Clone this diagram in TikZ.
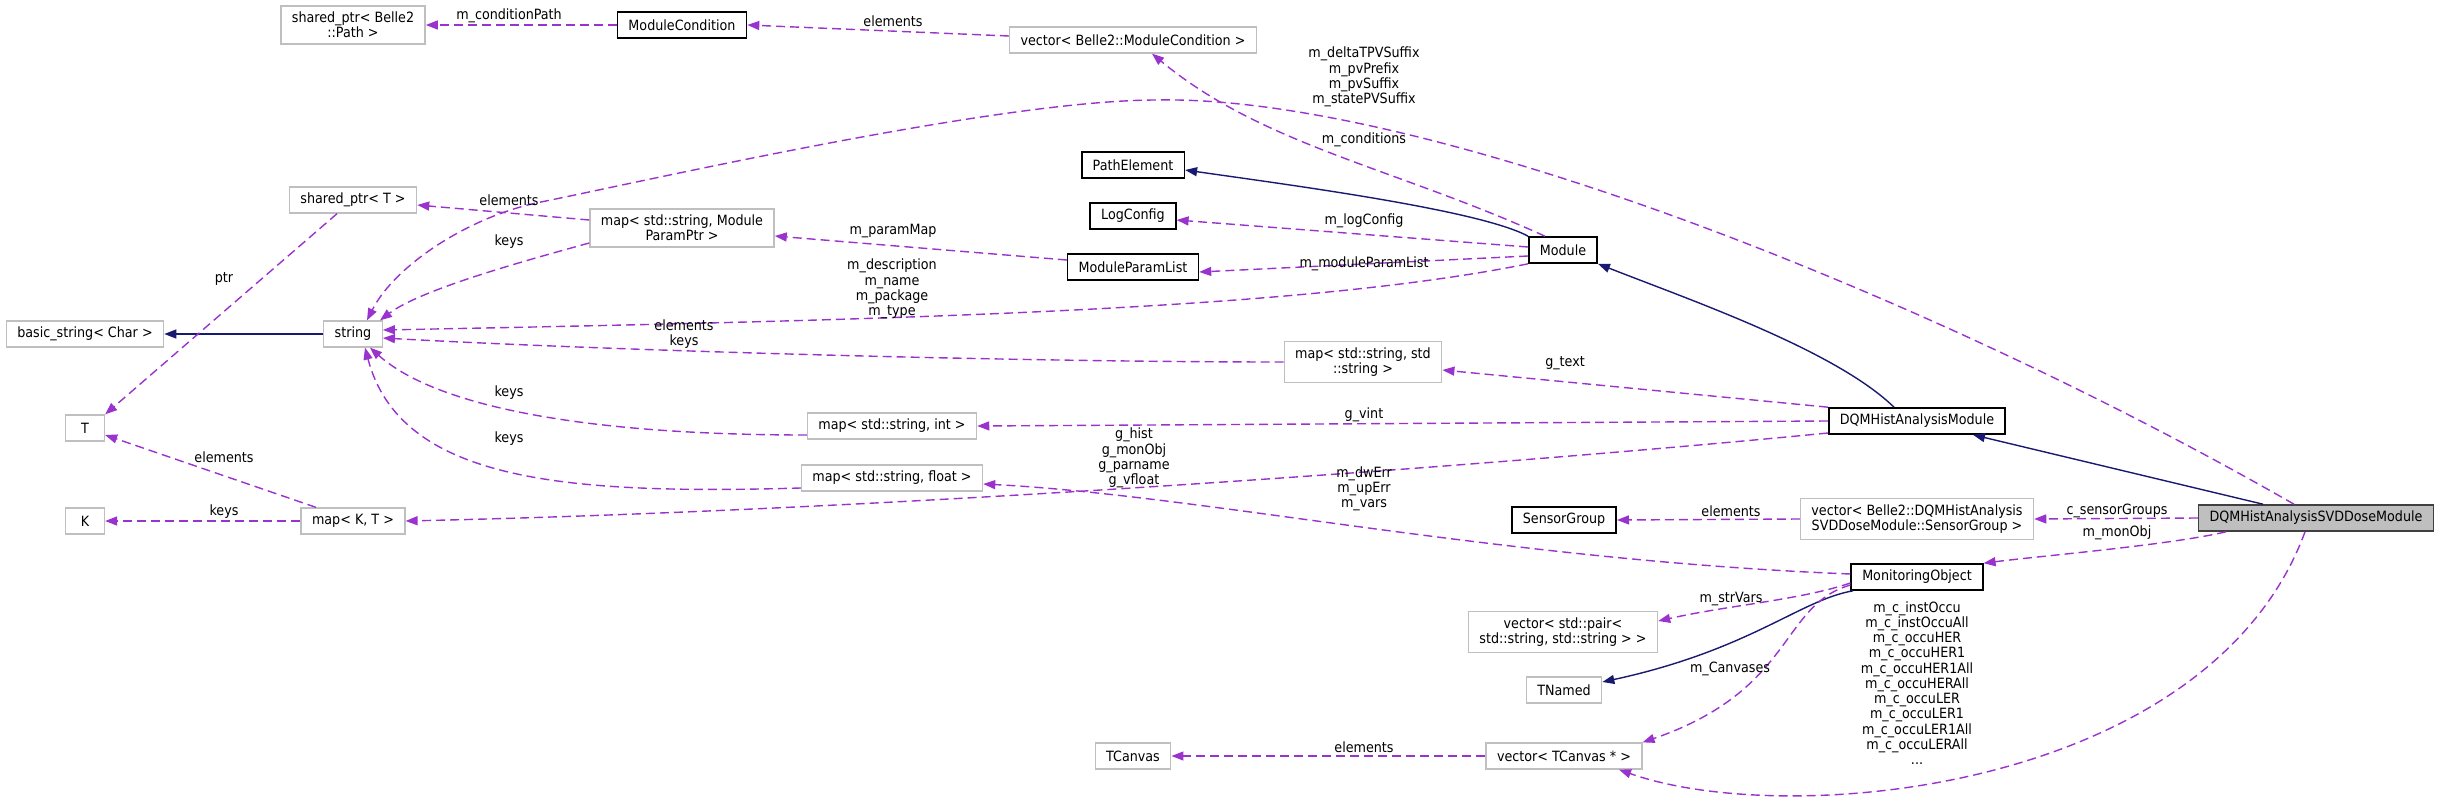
\documentclass[tikz,border=0pt]{standalone}
\usepackage{fontspec}
\setmainfont{DejaVu Sans Condensed}
\usepackage{tikz}
\usetikzlibrary{arrows.meta, positioning}

\definecolor{relpurple}{HTML}{9A32CD}
\definecolor{inhblue}{HTML}{191970}
\definecolor{extgray}{HTML}{BFBFBF}
\definecolor{docgray}{HTML}{404040}

\newcommand{\dgfont}{\fontsize{14.2}{15.3}\selectfont}

\tikzset{
  box/.style={draw, line width=1.3bp, inner xsep=11bp, inner ysep=6bp,
    minimum height=26bp, minimum width=39bp, align=center, font=\dgfont},
  extbox/.style={box, draw=extgray, fill=white},
  docbox/.style={box, draw=black, line width=1.6bp},
  mainbox/.style={box, draw=docgray, fill=extgray, line width=1.6bp},
  member/.style={relpurple, line width=1.4bp, dash pattern=on 9bp off 5bp,
    -{Stealth[length=12bp, width=9bp, inset=0pt]}},
  inherit/.style={inhblue, line width=1.4bp,
    -{Stealth[length=12bp, width=9bp, inset=0pt]}},
  lbl/.style={font=\dgfont, align=center, inner sep=0pt},
}

\begin{document}
\begin{tikzpicture}[x=1bp, y=-1bp]
  \useasboundingbox (0,0) rectangle (2443,801);

  % Documented classes
  \node[mainbox] (svddose) at (2316,518) {DQMHistAnalysisSVDDoseModule};
  \node[docbox] (dqmham) at (1917,421) {DQMHistAnalysisModule};
  \node[docbox] (module) at (1563,250) {Module};
  \node[docbox] (pathelem) at (1133,165) {PathElement};
  \node[docbox] (logcfg) at (1133,216) {LogConfig};
  \node[docbox] (parlist) at (1133,267) {ModuleParamList};
  \node[docbox] (modcond) at (682,25) {ModuleCondition};
  \node[docbox] (sensgrp) at (1564,520) {SensorGroup};
  \node[docbox] (monobj) at (1917,577) {MonitoringObject};

  % External classes and containers
  \node[extbox] (pathptr) at (353,25) {shared\_ptr< Belle2\\::Path >};
  \node[extbox] (condvec) at (1133,40) {vector< Belle2::ModuleCondition >};
  \node[extbox] (tptr) at (353,200) {shared\_ptr< T >};
  \node[extbox] (parmap) at (682,228) {map< std::string, Module\\ParamPtr >};
  \node[extbox] (basicstr) at (85,334) {basic\_string< Char >};
  \node[extbox] (str) at (353,334) {string};
  \node[extbox] (strmap) at (1363,362) {map< std::string, std\\::string >};
  \node[extbox] (tnode) at (85,428) {T};
  \node[extbox] (intmap) at (892,426) {map< std::string, int >};
  \node[extbox] (fltmap) at (892,478) {map< std::string, float >};
  \node[extbox] (knode) at (85,521) {K};
  \node[extbox] (ktmap) at (353,521) {map< K, T >};
  \node[extbox] (sensvec) at (1917,519) {vector< Belle2::DQMHistAnalysis\\SVDDoseModule::SensorGroup >};
  \node[extbox] (pairvec) at (1563,632) {vector< std::pair<\\std::string, std::string > >};
  \node[extbox] (tnamed) at (1564,690) {TNamed};
  \node[extbox] (tcanvas) at (1133,756) {TCanvas};
  \node[extbox] (canvvec) at (1564,756) {vector< TCanvas * >};

  % Inheritance
  \draw[inherit] (str.west) -- (basicstr.east);
  \draw[inherit] (module.north west) .. controls (1480,210) and (1290,185) .. ([yshift=-5bp]pathelem.east);
  \draw[inherit] ([xshift=-23bp]dqmham.north) .. controls (1835,350) and (1690,300) .. (module.south east);
  \draw[inherit] ([xshift=-53bp]svddose.north) -- ([xshift=56bp]dqmham.south);
  \draw[inherit] ([xshift=-64bp]monobj.south) .. controls (1800,600) and (1750,650) .. ([yshift=8bp]tnamed.east);

  % Members, top part
  \draw[member] (modcond.west) -- (pathptr.east);
  \draw[member] ([yshift=4bp]condvec.west) -- (modcond.east);
  \draw[member] ([xshift=-18bp]module.north) .. controls (1395,168) and (1262,145) .. ([xshift=19bp]condvec.south);
  \draw[member] ([yshift=3bp]module.west) -- ([yshift=-4bp]logcfg.east);
  \draw[member] ([yshift=-6bp]module.west) -- ([yshift=-5bp]parlist.east);
  \draw[member] (module.south west) .. controls (1300,310) and (900,320) .. ([yshift=4bp]str.east);
  \draw[member] ([yshift=7bp]parlist.west) -- ([yshift=-8bp]parmap.east);
  \draw[member] ([yshift=8bp]parmap.west) -- ([yshift=-5bp]tptr.east);
  \draw[member] ([yshift=-15bp]parmap.west) .. controls (520,262) and (420,290) .. ([xshift=27bp]str.north);
  \draw[member] ([xshift=-22bp]svddose.north) .. controls (1920,290) and (1420,95) .. (1157,100)
    .. controls (1000,100) and (650,180) .. (541,202)
    .. controls (470,216) and (395,265) .. ([xshift=14bp]str.north);

  % Members, string containers
  \draw[member] (strmap.west) .. controls (1000,362) and (600,350) .. ([yshift=-4bp]str.east);
  \draw[member] ([yshift=-9bp]intmap.west) .. controls (600,435) and (440,410) .. ([xshift=17bp]str.south);
  \draw[member] ([yshift=-10bp]fltmap.west) .. controls (560,495) and (400,480) .. ([xshift=12bp]str.south);
  \draw[member] ([xshift=-16bp]tptr.south) -- (tnode.north east);
  \draw[member] ([xshift=-37bp]ktmap.north) -- ([yshift=-7bp]tnode.east);
  \draw[member] (ktmap.west) -- (knode.east);

  % Members of the analysis modules
  \draw[member] (dqmham.north west) -- ([yshift=-8bp]strmap.east);
  \draw[member] (dqmham.west) -- (intmap.east);
  \draw[member] ([yshift=-12bp]dqmham.west) .. controls (1500,465) and (900,510) .. (ktmap.east);
  \draw[member] (svddose.west) -- (sensvec.east);
  \draw[member] (sensvec.west) -- (sensgrp.east);
  \draw[member] ([xshift=-90bp]svddose.south) .. controls (2170,545) and (2040,556) .. (monobj.north east);
  \draw[member] ([xshift=-11bp]svddose.south) .. controls (2210,790) and (1790,830) .. ([xshift=55bp]canvvec.south);
  \draw[member] ([yshift=3bp]monobj.west) .. controls (1500,560) and (1200,495) .. ([yshift=-6bp]fltmap.east);
  \draw[member] ([yshift=-6bp]monobj.west) .. controls (1800,600) and (1730,605) .. ([yshift=11bp]pairvec.east);
  \draw[member] ([yshift=-8bp]monobj.west) .. controls (1780,605) and (1795,690) .. (canvvec.north east);
  \draw[member] (canvvec.west) -- (tcanvas.east);

  % Edge labels
  \node[lbl] (lcondpath) at (509,16) {m\_conditionPath};
  \node[lbl] (lcondelem) at (893,21) {elements};
  \node[lbl] (lsuffix) at (1364,77) {m\_deltaTPVSuffix\\m\_pvPrefix\\m\_pvSuffix\\m\_statePVSuffix};
  \node[lbl] (lconds) at (1364,140) {m\_conditions};
  \node[lbl] (llogcfg) at (1364,221) {m\_logConfig};
  \node[lbl] (lparmap) at (893,231) {m\_paramMap};
  \node[lbl] (lparelem) at (509,200) {elements};
  \node[lbl] (lparkeys) at (509,242) {keys};
  \node[lbl] (lmodpar) at (1364,264) {m\_moduleParamList};
  \node[lbl] (ldescr) at (892,289) {m\_description\\m\_name\\m\_package\\m\_type};
  \node[lbl] (lptr) at (224,279) {ptr};
  \node[lbl] (lstrkeys) at (684,334) {elements\\keys};
  \node[lbl] (lgtext) at (1565,363) {g\_text};
  \node[lbl] (lintkeys) at (509,393) {keys};
  \node[lbl] (lgvint) at (1364,415) {g\_vint};
  \node[lbl] (lghist) at (1134,458) {g\_hist\\g\_monObj\\g\_parname\\g\_vfloat};
  \node[lbl] (lfltkeys) at (509,439) {keys};
  \node[lbl] (lktelem) at (224,457) {elements};
  \node[lbl] (lerr) at (1364,489) {m\_dwErr\\m\_upErr\\m\_vars};
  \node[lbl] (lktkeys) at (224,512) {keys};
  \node[lbl] (lsenselem) at (1731,511) {elements};
  \node[lbl] (lsensgrps) at (2117,511) {c\_sensorGroups};
  \node[lbl] (lmonobj) at (2117,533) {m\_monObj};
  \node[lbl] (lstrvars) at (1731,599) {m\_strVars};
  \node[lbl] (lcanv) at (1730,669) {m\_Canvases};
  \node[lbl] (loccu) at (1917,683) {m\_c\_instOccu\\m\_c\_instOccuAll\\m\_c\_occuHER\\m\_c\_occuHER1\\m\_c\_occuHER1All\\m\_c\_occuHERAll\\m\_c\_occuLER\\m\_c\_occuLER1\\m\_c\_occuLER1All\\m\_c\_occuLERAll\\...};
  \node[lbl] (lcanvelem) at (1364,747) {elements};
\end{tikzpicture}
\end{document}
